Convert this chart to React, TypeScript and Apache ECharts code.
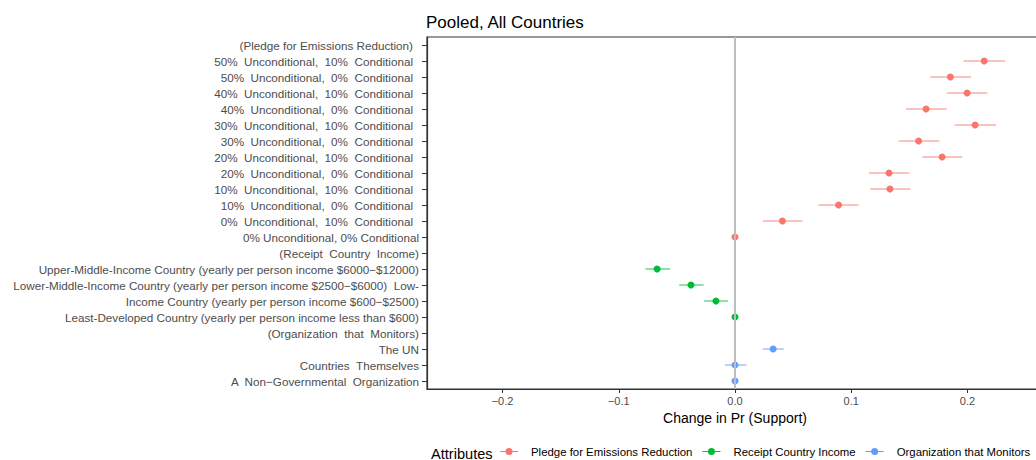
import React, { useEffect, useRef } from "react";
import * as echarts from "echarts";

const FONT = "'Liberation Sans', Arial, Helvetica, sans-serif";

const pledgeHeader = "(Pledge for Emissions Reduction)";
const pledgeLevels = [
  "50%  Unconditional,  10%  Conditional",
  "50%  Unconditional,  0%  Conditional",
  "40%  Unconditional,  10%  Conditional",
  "40%  Unconditional,  0%  Conditional",
  "30%  Unconditional,  10%  Conditional",
  "30%  Unconditional,  0%  Conditional",
  "20%  Unconditional,  10%  Conditional",
  "20%  Unconditional,  0%  Conditional",
  "10%  Unconditional,  10%  Conditional",
  "10%  Unconditional,  0%  Conditional",
  "0%  Unconditional,  10%  Conditional",
  "0% Unconditional, 0% Conditional",
];
const pledgeEstimate = [0.2144, 0.1853, 0.1997, 0.1644, 0.2066, 0.158, 0.1782, 0.1325, 0.1333, 0.0891, 0.0408, 0];
const pledgeLower = [0.1966, 0.168, 0.1822, 0.1471, 0.189, 0.1408, 0.1612, 0.1152, 0.1164, 0.0718, 0.0241, null];
const pledgeUpper = [0.2325, 0.2032, 0.2172, 0.1822, 0.2244, 0.1759, 0.1954, 0.15, 0.1509, 0.1063, 0.058, null];

const incomeHeader = "(Receipt  Country  Income)";
const incomeLevels = [
  "Upper-Middle-Income Country (yearly per person income $6000\u2212$12000)",
  "Lower-Middle-Income Country (yearly per person income $2500\u2212$6000)  Low-",
  "Income Country (yearly per person income $600\u2212$2500)",
  "Least-Developed Country (yearly per person income less than $600)",
];
const incomeEstimate = [-0.067, -0.0379, -0.0164, 0];
const incomeLower = [-0.077, -0.048, -0.0265, null];
const incomeUpper = [-0.0558, -0.027, -0.006, null];

const monitorHeader = "(Organization  that  Monitors)";
const monitorLevels = [
  "The UN",
  "Countries  Themselves",
  "A  Non\u2212Governmental  Organization",
];
const monitorEstimate = [0.0328, 0, 0];
const monitorLower = [0.0239, -0.0086, null];
const monitorUpper = [0.042, 0.0098, null];

const categories = [
  pledgeHeader,
  ...pledgeLevels,
  incomeHeader,
  ...incomeLevels,
  monitorHeader,
  ...monitorLevels,
];

const groupNames = ["Pledge for Emissions Reduction", "Receipt Country Income", "Organization that Monitors"];
const groupColors = ["#F8766D", "#00BA38", "#619CFF"];
const barColors = ["rgba(248,118,109,0.6)", "rgba(0,186,56,0.6)", "rgba(97,156,255,0.6)"];

const xTicks = [-0.2, -0.1, 0, 0.1, 0.2];
const xMin = -0.265;
const xMax = 0.265;

const legendIcon = "path://M0,3 L18,3 L18,4 L0,4 Z M12.5,3.5 A3.5,3.5 0 1,1 5.5,3.5 A3.5,3.5 0 1,1 12.5,3.5 Z";

export default function App() {
  const ref = useRef<HTMLDivElement>(null);

  useEffect(() => {
    if (!ref.current) return;
    const chart = echarts.init(ref.current, undefined, { renderer: "svg" });

    const groups = [
      { levels: pledgeLevels, est: pledgeEstimate, lo: pledgeLower, hi: pledgeUpper },
      { levels: incomeLevels, est: incomeEstimate, lo: incomeLower, hi: incomeUpper },
      { levels: monitorLevels, est: monitorEstimate, lo: monitorLower, hi: monitorUpper },
    ];

    const series: any[] = [];
    series.push({
      type: "scatter",
      name: "zero",
      data: [],
      z: 1,
      silent: true,
      markLine: {
        silent: true,
        symbol: "none",
        label: { show: false },
        lineStyle: { color: "#BEBEBE", width: 2, type: "solid" },
        data: [{ xAxis: 0 }],
      },
    });
    groups.forEach((g, gi) => {
      const barData: any[] = [];
      g.levels.forEach((c, i) => {
        if (g.lo[i] != null && g.hi[i] != null) {
          barData.push([g.lo[i], g.hi[i], categories.indexOf(c)]);
        }
      });
      series.push({
        type: "custom",
        name: groupNames[gi] + " CI",
        z: 2,
        silent: true,
        encode: { x: [0, 1], y: 2 },
        data: barData,
        renderItem: (params: any, api: any) => {
          const p1 = api.coord([api.value(0), api.value(2)]);
          const p2 = api.coord([api.value(1), api.value(2)]);
          return {
            type: "line",
            shape: { x1: p1[0], y1: p1[1], x2: p2[0], y2: p2[1] },
            style: { stroke: barColors[gi], lineWidth: 1.5 },
          };
        },
      });
      series.push({
        type: "scatter",
        name: groupNames[gi],
        z: 3,
        symbol: "circle",
        symbolSize: 7,
        itemStyle: { color: groupColors[gi], opacity: 1 },
        data: g.levels.map((c, i) => [g.est[i], c]),
      });
    });

    chart.setOption({
      animation: false,
      textStyle: { fontFamily: FONT },
      title: {
        text: "Pooled, All Countries",
        left: 421,
        top: 9,
        textStyle: { fontFamily: FONT, fontSize: 17, fontWeight: "normal", color: "#000" },
      },
      grid: {
        left: 427,
        top: 37,
        right: 7,
        bottom: 71,
        show: true,
        borderColor: "#333",
        borderWidth: 1.2,
        containLabel: false,
      },
      xAxis: {
        type: "value",
        min: xMin,
        max: xMax,
        name: "Change in Pr (Support)",
        nameLocation: "middle",
        nameGap: 19,
        nameTextStyle: { fontFamily: FONT, fontSize: 14, color: "#000" },
        axisLine: { show: true, onZero: false, lineStyle: { color: "#333", width: 1.2 } },
        axisTick: { show: true, length: 4, customValues: xTicks, lineStyle: { color: "#333" } },
        axisLabel: {
          customValues: xTicks,
          fontFamily: FONT,
          fontSize: 11,
          color: "#4D4D4D",
          margin: 6,
          formatter: (v: number) => (v < 0 ? "\u2212" + Math.abs(v).toFixed(1) : v.toFixed(1)),
        },
        splitLine: { show: false },
      },
      yAxis: {
        type: "category",
        data: categories,
        inverse: true,
        boundaryGap: true,
        axisLine: { show: true, onZero: false, lineStyle: { color: "#333", width: 1.2 } },
        axisTick: { show: true, length: 5, alignWithLabel: true, lineStyle: { color: "#333" } },
        axisLabel: {
          interval: 0,
          margin: 8,
          fontFamily: FONT,
          fontSize: 11.7,
          color: "#4D4D4D",
          formatter: (v: string, i: number) => (i <= 11 ? "{a|" + v + "}" : "{b|" + v + "}"),
          rich: {
            a: { fontFamily: FONT, fontSize: 11.7, color: "#4D4D4D", padding: [0, 6, 0, 0] },
            b: { fontFamily: FONT, fontSize: 11.7, color: "#4D4D4D" },
          },
        },
        splitLine: { show: false },
      },
      legend: {
        data: groupNames,
        left: 495,
        top: 441,
        orient: "horizontal",
        icon: legendIcon,
        itemWidth: 18,
        itemHeight: 7,
        itemGap: 10,
        selectedMode: false,
        textStyle: { fontFamily: FONT, fontSize: 11.4, color: "#000", padding: [0, 0, 0, 8] },
      },
      graphic: [
        {
          type: "text",
          left: 431,
          top: 446,
          style: { text: "Attributes", fontFamily: FONT, fontSize: 14.6, fill: "#000" },
        },
      ],
      series,
    });

    return () => chart.dispose();
  }, []);

  return (
    <div style={{ position: "absolute", left: 0, top: 0, width: 1036, height: 460, overflow: "hidden" }}>
      <div ref={ref} style={{ width: 1050, height: 460 }} />
    </div>
  );
}
